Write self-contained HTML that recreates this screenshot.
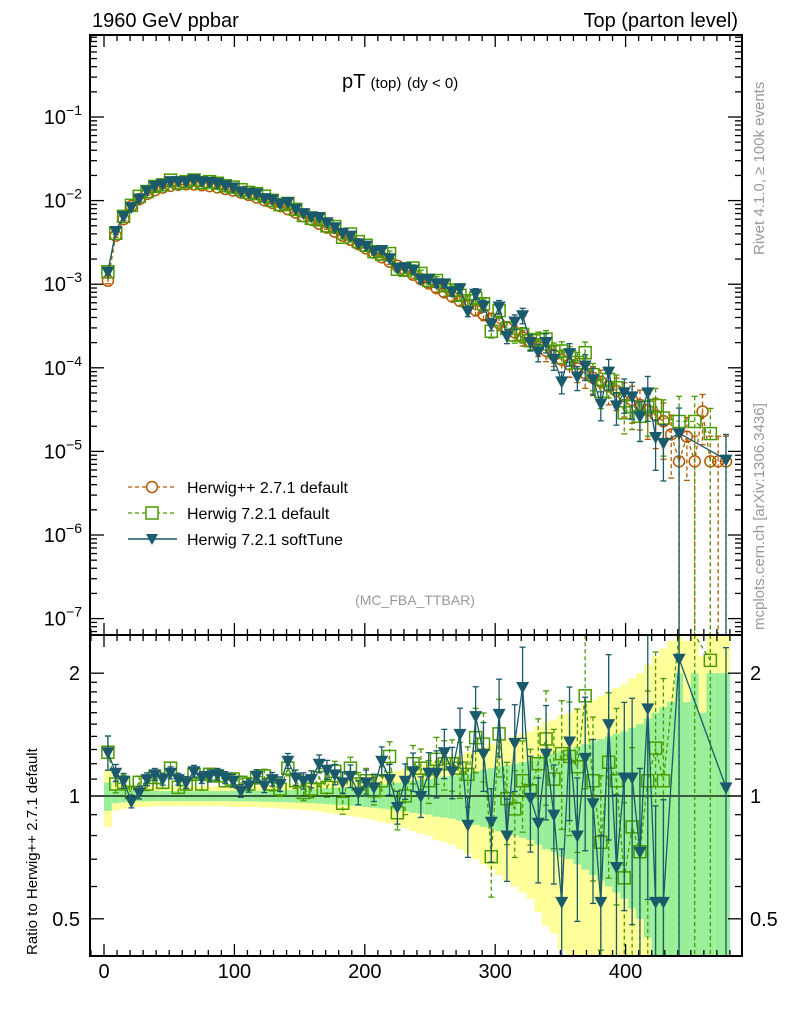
<!DOCTYPE html>
<html><head><meta charset="utf-8">
<style>
html,body{margin:0;padding:0;background:#fff;overflow:hidden;}
svg{display:block;font-family:"Liberation Sans",sans-serif;}
</style></head>
<body>
<svg id="chart" width="786" height="1024" viewBox="0 0 786 1024" xmlns="http://www.w3.org/2000/svg">
<defs>
<clipPath id="clipMain"><rect x="90" y="35" width="652" height="600"/></clipPath>
<clipPath id="clipRatio"><rect x="90" y="635" width="652" height="321"/></clipPath>
</defs>
<g id="bands" clip-path="url(#clipRatio)"></g>
<g id="ticks"></g>
<line x1="90" y1="796" x2="742" y2="796" stroke="#000" stroke-width="1.3"/>
<g id="mainSeries" clip-path="url(#clipMain)"></g>
<g id="ratioSeries" clip-path="url(#clipRatio)"></g>
<rect x="90" y="35" width="652" height="600" fill="none" stroke="#000" stroke-width="2"/>
<rect x="90" y="635" width="652" height="321" fill="none" stroke="#000" stroke-width="2"/>
<g id="labels"></g>
<text x="92" y="27" font-size="20">1960 GeV ppbar</text>
<text x="738" y="27" font-size="20" text-anchor="end">Top (parton level)</text>
<text x="342" y="88" font-size="20">pT <tspan font-size="15">(top)</tspan> <tspan font-size="15">(dy &lt; 0)</tspan></text>
<text x="415" y="605" font-size="14" fill="#999" text-anchor="middle">(MC_FBA_TTBAR)</text>
<text transform="translate(764,255) rotate(-90)" font-size="15" fill="#999">Rivet 4.1.0, ≥ 100k events</text>
<text transform="translate(764,630) rotate(-90)" font-size="15" fill="#999">mcplots.cern.ch [arXiv:1306.3436]</text>
<text transform="translate(37,955) rotate(-90)" font-size="15">Ratio to Herwig++ 2.7.1 default</text>
<g id="legend">
<line x1="128" y1="487" x2="177" y2="487" stroke="#b35a00" stroke-width="1.3" stroke-dasharray="4,3"/>
<circle cx="152" cy="487" r="5.5" fill="#fff" stroke="#b35a00" stroke-width="1.5"/>
<text x="187" y="493" font-size="16">Herwig++ 2.7.1 default</text>
<line x1="128" y1="513" x2="177" y2="513" stroke="#4a9a00" stroke-width="1.3" stroke-dasharray="4,3"/>
<rect x="146" y="507" width="12" height="12" fill="#fff" stroke="#4a9a00" stroke-width="1.5"/>
<text x="187" y="519" font-size="16">Herwig 7.2.1 default</text>
<line x1="128" y1="539" x2="177" y2="539" stroke="#1b5a6a" stroke-width="1.5"/>
<path d="M146 534 L158 534 L152 545 Z" fill="#1b5a6a"/>
<text x="187" y="545" font-size="16">Herwig 7.2.1 softTune</text>
</g>
</svg>
<script>
const binWidth = 6;
const binCenters = [3,9,15,21,27,33,39,45,51,57,63,69,75,81,87,93,99,105,111,117,123,129,135,141,147,153,159,165,171,177,183,189,195,201,207,213,219,225,231,237,243,249,255,261,267,273,279,285,291,297,303,309,315,321,327,333,339,345,351,357,363,369,375,381,387,393,399,405,411,417,423,429,435,441,447,453,459,465,471,477];
const hppValues = [1.1e-3,3.8e-3,6.0e-3,8.6e-3,1.04e-2,1.2e-2,1.33e-2,1.43e-2,1.5e-2,1.55e-2,1.57e-2,1.56e-2,1.53e-2,1.49e-2,1.44e-2,1.38e-2,1.32e-2,1.25e-2,1.17e-2,1.09e-2,1.01e-2,9.4e-3,8.6e-3,7.9e-3,7.2e-3,6.5e-3,5.9e-3,5.3e-3,4.75e-3,4.25e-3,3.8e-3,3.4e-3,3.02e-3,2.68e-3,2.38e-3,2.1e-3,1.86e-3,1.66e-3,1.47e-3,1.3e-3,1.15e-3,1.02e-3,9.0e-4,8.0e-4,7.1e-4,6.3e-4,5.6e-4,4.9e-4,4.35e-4,3.85e-4,3.4e-4,3.0e-4,2.65e-4,2.3e-4,2.05e-4,1.8e-4,1.6e-4,1.42e-4,1.25e-4,1.1e-4,9.8e-5,8.6e-5,7.6e-5,6.8e-5,6.0e-5,5.3e-5,4.6e-5,4.1e-5,3.6e-5,3.1e-5,2.7e-5,2.3e-5,1.6e-5,7.6e-6,1.5e-5,7.6e-6,3.0e-5,7.6e-6,7.6e-6,7.6e-6];
const hppRelErr = [0.08,0.04,0.035,0.03,0.03,0.03,0.028,0.028,0.028,0.028,0.028,0.028,0.028,0.028,0.028,0.028,0.03,0.03,0.03,0.03,0.032,0.032,0.034,0.035,0.036,0.038,0.04,0.042,0.045,0.048,0.05,0.053,0.056,0.06,0.064,0.068,0.072,0.077,0.083,0.09,0.095,0.1,0.11,0.115,0.12,0.13,0.14,0.15,0.16,0.17,0.18,0.19,0.2,0.21,0.22,0.24,0.26,0.27,0.29,0.3,0.32,0.34,0.36,0.38,0.4,0.42,0.44,0.47,0.5,0.55,0.6,0.65,0.7,1.0,0.7,1.0,0.6,1.0,1.0,1.0];
const greenRatio = [1.28,1.07,1.08,1.02,1.08,1.07,1.11,1.08,1.17,1.05,1.07,1.13,1.07,1.13,1.12,1.09,1.10,1.08,1.07,1.11,1.12,1.07,1.04,1.17,1.09,1.02,1.04,1.11,1.05,1.15,0.96,1.17,1.07,1.09,1.03,1.09,1.25,0.91,1.0,1.2,1.17,1.09,1.23,1.2,1.2,1.17,1.13,1.39,1.34,0.71,1.42,0.985,0.93,1.09,1.03,1.2,1.38,1.1,1.27,1.25,1.18,1.76,1.09,0.77,1.21,1.09,0.63,0.84,0.73,1.09,1.31,1.09,null,3.0,null,3.0,null,2.15,null,null];
const softRatio = [1.28,1.14,1.09,0.97,1.02,1.10,1.13,1.10,1.14,1.10,1.08,1.15,1.11,1.12,1.13,1.11,1.09,1.03,1.06,1.12,1.06,1.10,1.07,1.22,1.11,1.09,1.10,1.20,1.16,1.13,1.08,1.12,1.02,1.08,1.05,1.22,1.10,0.94,1.09,1.15,1.0,1.14,1.14,1.28,1.15,1.42,0.85,1.57,1.27,0.865,1.59,0.80,1.35,1.85,0.99,0.86,1.27,0.90,0.55,1.36,0.80,1.24,0.96,0.55,1.50,0.67,1.11,1.11,0.73,1.64,0.55,0.55,null,2.17,null,null,null,null,null,1.05];
const xTickLabels = [0,100,200,300,400];
const mainExpLabels = [-1,-2,-3,-4,-5,-6,-7];
const ratioTickLabels = [0.5,1,2];

const NS = "http://www.w3.org/2000/svg";
const L=90,R=742,T=35,M=635,B=956;
function xs(v){return 104+1.304*v;}
function ym(v){return 117-83.6*(Math.log10(v)+1);}
function yr(r){return 796-408*Math.log10(r);}
function mk(tag,attrs,parent){const e=document.createElementNS(NS,tag);for(const k in attrs)e.setAttribute(k,attrs[k]);parent.appendChild(e);return e;}

const ticks=document.getElementById('ticks');
const labels=document.getElementById('labels');
for(let v=-10;v<=490;v+=10){
  const x=xs(v); if(x<L||x>R) continue;
  const major=(v%100===0), len=major?12:6;
  [[T,1],[M,-1],[M,1],[B,-1]].forEach(([y0,d])=>{
    const t=mk('line',{x1:x,x2:x,y1:y0,y2:y0+d*len,stroke:'#000','stroke-width':1.3},ticks);
    
    
  });
}
xTickLabels.forEach(v=>{
  const t=mk('text',{x:xs(v),y:978,'font-size':20,'text-anchor':'middle'},labels);
  t.textContent=String(v);
  
  
});
for(let e=-8;e<=0;e++){
  for(let m=1;m<=9;m++){
    const v=m*Math.pow(10,e), y=ym(v);
    if(y<T||y>M) continue;
    const len=m===1?14:7;
    [[L,1],[R,-1]].forEach(([x0,d])=>{
      const t=mk('line',{x1:x0,x2:x0+d*len,y1:y,y2:y,stroke:'#000','stroke-width':1.3},ticks);
      
      
    });
  }
}
mainExpLabels.forEach(e=>{
  const t=mk('text',{x:82,y:ym(Math.pow(10,e))+7,'font-size':20,'text-anchor':'end'},labels);
  const b=document.createElementNS(NS,'tspan');b.textContent='10';t.appendChild(b);
  const s=document.createElementNS(NS,'tspan');s.setAttribute('dy','-9');s.setAttribute('font-size','14');s.textContent='\u2212'+Math.abs(e);t.appendChild(s);
  
  
});
[0.4,0.5,0.6,0.7,0.8,0.9,1,1.1,1.2,1.3,1.4,1.5,1.6,1.7,1.8,1.9,2,2.5].forEach(r=>{
  const y=yr(r); if(y<M||y>B) return;
  const major=(r===0.5||r===1||r===2), len=major?14:7;
  [[L,1],[R,-1]].forEach(([x0,d])=>{
    const t=mk('line',{x1:x0,x2:x0+d*len,y1:y,y2:y,stroke:'#000','stroke-width':1.3},ticks);
    
    
  });
});
ratioTickLabels.forEach(r=>{
  [[80,'end'],[750,'start']].forEach(([x,a])=>{
    const t=mk('text',{x:x,y:yr(r)+7,'font-size':20,'text-anchor':a},labels);
    t.textContent=String(r);
    
    
  });
});
const bands=document.getElementById('bands');
binCenters.forEach((c,i)=>{
  const e=hppRelErr[i];
  const x0=xs(c-binWidth/2), w=xs(c+binWidth/2)-x0;
  const yTop=Math.max(M,yr(1+2*e)), yBot=(1-2*e)>0.4?yr(1-2*e):B;
  const y1=mk('rect',{x:x0,y:yTop,width:w,height:yBot-yTop,fill:'#ffff99'},bands);
  
  
  const gTop=Math.max(M,yr(1+e)), gBot=(1-e)>0.4?yr(1-e):B;
  const g1=mk('rect',{x:x0,y:gTop,width:w,height:gBot-gTop,fill:'#99ee99'},bands);
  
  
});
const main=document.getElementById('mainSeries'), ratio=document.getElementById('ratioSeries');
function marker(kind,x,y,col,parent){
  let e;
  if(kind==='circle') e=mk('circle',{cx:x,cy:y,r:5.5,fill:'none',stroke:col,'stroke-width':1.5},parent);
  else if(kind==='square') e=mk('rect',{x:x-6,y:y-6,width:12,height:12,fill:'none',stroke:col,'stroke-width':1.5},parent);
  else e=mk('path',{d:`M${x-6.5} ${y-5} L${x+6.5} ${y-5} L${x} ${y+7} Z`,fill:col},parent);
  return e;
}
function drawSeries(vals,errs,yf,kind,col,dash,parent,name,yTopLim,yBotLim){
  const clampY=y=>Math.min(yBotLim,Math.max(yTopLim,y));
  const pts=[];
  vals.forEach((v,i)=>{ if(v==null) return; pts.push([xs(binCenters[i]),yf(v),v,errs[i]]); });
  const pl=mk('polyline',{points:pts.map(p=>p[0]+','+clampY(p[1])).join(' '),fill:'none',stroke:col,'stroke-width':1.3},parent);
  if(dash) pl.setAttribute('stroke-dasharray','4,3');
  
  
  pts.forEach(p=>{
    const lo=p[2]*(1-p[3]), hi=p[2]*(1+p[3]);
    const ylRaw=lo>0?yf(lo):yBotLim;
    const yl=clampY(ylRaw), yh=clampY(yf(hi));
    const eb=mk('line',{x1:p[0],x2:p[0],y1:yh,y2:yl,stroke:col,'stroke-width':1.3},parent);
    if(dash) eb.setAttribute('stroke-dasharray','4,3');
    
    
    [yh,yl].forEach(yy=>{ if(yy<=yTopLim||yy>=yBotLim) return;
      const cap=mk('line',{x1:p[0]-3,x2:p[0]+3,y1:yy,y2:yy,stroke:col,'stroke-width':1.3},parent);
      
      
    });
  });
  pts.forEach(p=>{
    if(p[1]<yTopLim||p[1]>yBotLim) return;
    const m=marker(kind,p[0],p[1],col,parent);
    
    
  });
}
const greenVals=hppValues.map((v,i)=>greenRatio[i]==null?null:v*greenRatio[i]);
const softVals=hppValues.map((v,i)=>softRatio[i]==null?null:v*softRatio[i]);
drawSeries(hppValues,hppRelErr,ym,'circle','#b35a00',true,main,'herwigpp',T,M);
drawSeries(greenVals,hppRelErr,ym,'square','#4a9a00',true,main,'herwig7-default',T,M);
drawSeries(softVals,hppRelErr,ym,'tri','#1b5a6a',false,main,'herwig7-softtune',T,M);
const ratErr=hppRelErr.map(e=>e*1.2);
drawSeries(greenRatio,ratErr,yr,'square','#4a9a00',true,ratio,'ratio-herwig7-default',M,B);
drawSeries(softRatio,ratErr,yr,'tri','#1b5a6a',false,ratio,'ratio-herwig7-softtune',M,B);
</script>
</body></html>
